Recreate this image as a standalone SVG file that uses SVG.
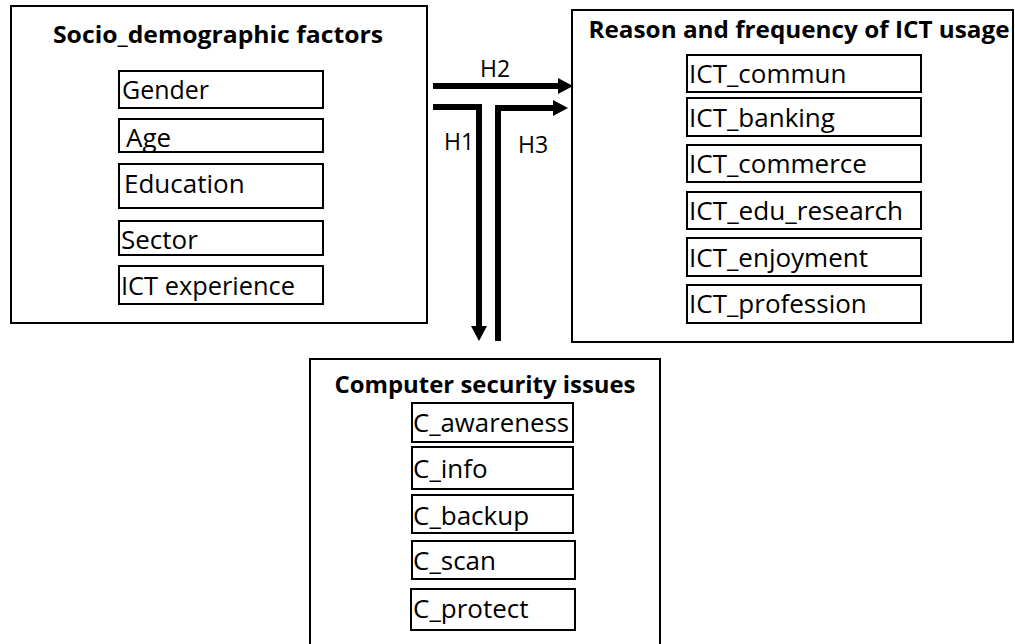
<svg xmlns="http://www.w3.org/2000/svg" width="1015" height="644" viewBox="0 0 1015 644">
  <style>
    .frame { fill: #ffffff; stroke: #000000; stroke-width: 2; }
    .item { fill: #ffffff; stroke: #000000; stroke-width: 2; }
    .title { font-family: "Open Sans", "Noto Sans", sans-serif; font-weight: bold; font-size: 23px; fill: #000000; }
    .label { font-family: "Open Sans", "Noto Sans", sans-serif; font-size: 26px; fill: #000000; }
    .hyp { font-family: "Open Sans", "Noto Sans", sans-serif; font-size: 23px; fill: #000000; }
    .conn { fill: none; stroke: #000000; stroke-width: 6; }
  </style>
  <defs>
    <marker id="head" viewBox="0 0 15 16" refX="0" refY="8" markerWidth="15" markerHeight="16" markerUnits="userSpaceOnUse" orient="auto">
      <path d="M0,0 L15,8 L0,16 Z" fill="#000000"/>
    </marker>
  </defs>
  <rect width="1015" height="644" fill="#ffffff"/>

  <g id="socio">
    <rect class="frame" x="11" y="6" width="416" height="317"/>
    <text class="title" x="218" y="43" text-anchor="middle" textLength="330" lengthAdjust="spacingAndGlyphs">Socio_demographic factors</text>
    <rect class="item" x="119" y="71" width="204" height="37"/>
    <text class="label" x="122" y="99" textLength="87" lengthAdjust="spacingAndGlyphs">Gender</text>
    <rect class="item" x="119" y="119" width="204" height="33"/>
    <text class="label" x="126" y="147">Age</text>
    <rect class="item" x="119" y="164" width="204" height="44"/>
    <text class="label" x="124" y="193">Education</text>
    <rect class="item" x="119" y="221" width="204" height="34"/>
    <text class="label" x="121" y="249">Sector</text>
    <rect class="item" x="119" y="266" width="204" height="38"/>
    <text class="label" x="121" y="295" textLength="174" lengthAdjust="spacingAndGlyphs">ICT experience</text>
  </g>

  <g id="ict-usage">
    <rect class="frame" x="572" y="10" width="441" height="332"/>
    <text class="title" x="799" y="38" text-anchor="middle" textLength="421" lengthAdjust="spacingAndGlyphs">Reason and frequency of ICT usage</text>
    <rect class="item" x="687" y="55" width="234" height="37"/>
    <text class="label" x="689" y="83">ICT_commun</text>
    <rect class="item" x="687" y="98" width="234" height="38"/>
    <text class="label" x="689" y="127">ICT_banking</text>
    <rect class="item" x="687" y="145" width="234" height="37"/>
    <text class="label" x="689" y="173">ICT_commerce</text>
    <rect class="item" x="687" y="192" width="234" height="37"/>
    <text class="label" x="689" y="220" textLength="214" lengthAdjust="spacingAndGlyphs">ICT_edu_research</text>
    <rect class="item" x="687" y="238" width="234" height="38"/>
    <text class="label" x="689" y="267">ICT_enjoyment</text>
    <rect class="item" x="687" y="285" width="234" height="38"/>
    <text class="label" x="689" y="313">ICT_profession</text>
  </g>

  <g id="security">
    <rect class="frame" x="310" y="359" width="350" height="300"/>
    <text class="title" x="485" y="393" text-anchor="middle" textLength="301" lengthAdjust="spacingAndGlyphs">Computer security issues</text>
    <rect class="item" x="412" y="403" width="161" height="39"/>
    <text class="label" x="413" y="432" textLength="156" lengthAdjust="spacingAndGlyphs">C_awareness</text>
    <rect class="item" x="412" y="447" width="161" height="42"/>
    <text class="label" x="413" y="478">C_info</text>
    <rect class="item" x="412" y="495" width="161" height="38"/>
    <text class="label" x="413" y="525">C_backup</text>
    <rect class="item" x="412" y="541" width="163" height="38"/>
    <text class="label" x="413" y="570">C_scan</text>
    <rect class="item" x="411" y="589" width="164" height="41"/>
    <text class="label" x="413" y="618">C_protect</text>
  </g>

  <g id="connectors">
    <path class="conn" d="M433,86 H558" marker-end="url(#head)"/>
    <path class="conn" d="M433,107 H479 V326" marker-end="url(#head)"/>
    <path class="conn" d="M498,341 V108 H553" marker-end="url(#head)"/>
    <text class="hyp" x="495" y="77" text-anchor="middle">H2</text>
    <text class="hyp" x="459" y="150" text-anchor="middle">H1</text>
    <text class="hyp" x="533" y="153" text-anchor="middle">H3</text>
  </g>
</svg>
